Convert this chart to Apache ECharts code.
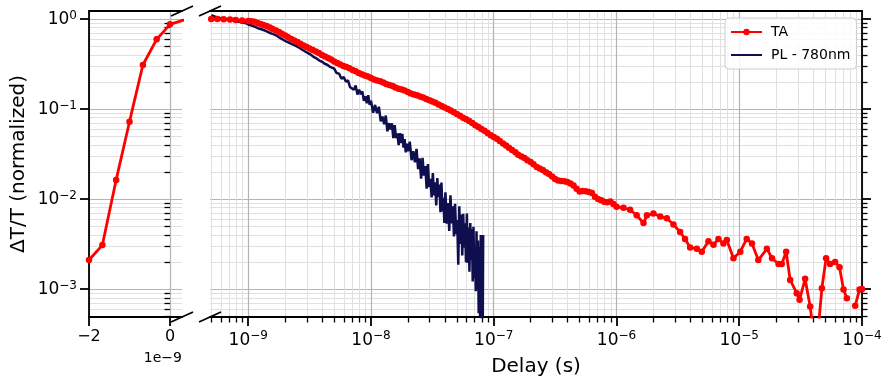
<!DOCTYPE html>
<html>
<head>
<meta charset="utf-8">
<script src="https://cdn.jsdelivr.net/npm/echarts@6/dist/echarts.min.js"></script>
<style>
  html, body { margin: 0; padding: 0; background: #ffffff; }
  #chart { width: 888px; height: 378px; }
</style>
</head>
<body>
<div id="chart"></div>
<script>
// ---- Transient absorption (TA), delay in seconds ----
const taTime = [
  -2.0e-9, -1.67e-9, -1.33e-9, -1.0e-9, -0.67e-9, -0.33e-9, 0, 0.33e-9,
  5.0e-10, 5.6e-10, 6.3e-10, 7.1e-10, 7.9e-10, 8.9e-10,
  1.0e-9, 1.06e-9, 1.12e-9, 1.19e-9, 1.26e-9, 1.33e-9, 1.41e-9, 1.5e-9, 1.58e-9, 1.68e-9,
  1.78e-9, 1.88e-9, 2.0e-9, 2.11e-9, 2.24e-9, 2.37e-9, 2.51e-9, 2.66e-9, 2.82e-9, 2.99e-9,
  3.16e-9, 3.35e-9, 3.55e-9, 3.76e-9, 3.98e-9, 4.22e-9, 4.47e-9, 4.73e-9, 5.01e-9, 5.31e-9,
  5.62e-9, 5.96e-9, 6.31e-9, 6.68e-9, 7.08e-9, 7.5e-9, 7.94e-9, 8.41e-9, 8.91e-9, 9.44e-9,
  1.0e-8, 1.06e-8, 1.12e-8, 1.19e-8, 1.26e-8, 1.33e-8, 1.41e-8, 1.5e-8, 1.58e-8, 1.68e-8,
  1.78e-8, 1.88e-8, 2.0e-8, 2.11e-8, 2.24e-8, 2.37e-8, 2.51e-8, 2.66e-8, 2.82e-8, 2.99e-8,
  3.16e-8, 3.35e-8, 3.55e-8, 3.76e-8, 3.98e-8, 4.22e-8, 4.47e-8, 4.73e-8, 5.01e-8, 5.31e-8,
  5.62e-8, 5.96e-8, 6.31e-8, 6.68e-8, 7.08e-8, 7.5e-8, 7.94e-8, 8.41e-8, 8.91e-8, 9.44e-8,
  1.0e-7, 1.06e-7, 1.12e-7, 1.19e-7, 1.26e-7, 1.33e-7, 1.41e-7, 1.5e-7, 1.58e-7, 1.68e-7,
  1.78e-7, 1.88e-7, 2.0e-7, 2.11e-7, 2.24e-7, 2.37e-7, 2.51e-7, 2.66e-7, 2.82e-7, 2.99e-7,
  3.16e-7, 3.35e-7, 3.55e-7, 3.76e-7, 3.98e-7, 4.22e-7, 4.47e-7, 4.73e-7, 5.01e-7, 5.31e-7,
  5.62e-7, 5.96e-7, 6.31e-7, 6.68e-7, 7.08e-7, 7.5e-7, 7.94e-7, 8.41e-7, 8.91e-7, 9.44e-7,
  1.0e-6, 1.14e-6, 1.29e-6, 1.46e-6, 1.66e-6, 1.77e-6, 2.0e-6, 2.27e-6, 2.57e-6, 2.91e-6,
  3.3e-6, 3.62e-6, 3.98e-6, 4.51e-6, 4.95e-6, 5.61e-6, 6.17e-6, 6.77e-6, 7.43e-6, 7.92e-6, 8.97e-6,
  1.02e-5, 1.15e-5, 1.27e-5, 1.43e-5, 1.68e-5, 1.85e-5, 2.09e-5, 2.22e-5, 2.41e-5, 2.6e-5,
  2.94e-5, 3.1e-5, 3.44e-5, 3.78e-5, 4.24e-5, 4.71e-5, 5.1e-5, 5.5e-5, 6.04e-5, 6.56e-5,
  7.07e-5, 7.53e-5, 8.1e-5, 8.8e-5, 9.55e-5, 1.0e-4
];
const taValue = [
  0.0021, 0.00308, 0.0163, 0.0723, 0.308, 0.594, 0.873, 0.97,
  1.0, 1.0, 0.995, 0.99, 0.975, 0.965,
  0.95, 0.942, 0.93, 0.905, 0.88, 0.86, 0.836, 0.806, 0.774, 0.745,
  0.717, 0.686, 0.656, 0.628, 0.60, 0.578, 0.555, 0.53, 0.508, 0.49,
  0.47, 0.452, 0.435, 0.418, 0.398, 0.382, 0.369, 0.354, 0.337, 0.325,
  0.312, 0.301, 0.293, 0.283, 0.271, 0.262, 0.251, 0.243, 0.236, 0.229,
  0.221, 0.213, 0.207, 0.203, 0.197, 0.19, 0.185, 0.18, 0.173, 0.168,
  0.165, 0.161, 0.155, 0.149, 0.145, 0.142, 0.138, 0.134, 0.129, 0.125,
  0.121, 0.117, 0.112, 0.108, 0.104, 0.1, 0.096, 0.092, 0.088, 0.084,
  0.080, 0.077, 0.0735, 0.07, 0.066, 0.063, 0.0599, 0.0572, 0.054, 0.0512,
  0.0489, 0.0468, 0.0442, 0.0415, 0.0394, 0.0372, 0.035, 0.0331, 0.031, 0.0296,
  0.0285, 0.027, 0.0258, 0.0244, 0.0227, 0.0218, 0.021, 0.0198, 0.019, 0.0178,
  0.0167, 0.0161, 0.0159, 0.0158, 0.0155, 0.0149, 0.0141, 0.013, 0.0121, 0.0123,
  0.0122, 0.012, 0.0117, 0.0106, 0.0100, 0.0097, 0.0093, 0.0092, 0.0094, 0.0088,
  0.0082, 0.0080, 0.0076, 0.0066, 0.0054, 0.0066, 0.0069, 0.0064, 0.0061, 0.0052,
  0.0043, 0.0036, 0.0029, 0.0028, 0.0026, 0.0034, 0.0031, 0.0036, 0.0032, 0.0035, 0.0022,
  0.0026, 0.0036, 0.0032, 0.0021, 0.0028, 0.0022, 0.0019, 0.0019, 0.0026, 0.00126,
  0.0009, 0.00076, 0.0013, 0.00064, 0.0002, 0.00102, 0.0022, 0.0019, 0.0020, 0.00175,
  0.00099, 0.00079, null, 0.00065, 0.00099, 0.001
];

// ---- Photoluminescence at 780 nm, delay in nanoseconds ----
const plTimeNs = [
  0.50, 0.55, 0.60, 0.65, 0.70, 0.75, 0.80, 0.85, 0.90, 0.95,
  1.0, 1.1, 1.2, 1.3, 1.4, 1.5, 1.6, 1.7, 1.8, 1.9,
  2.0, 2.2, 2.4, 2.6, 2.8, 3.0, 3.2, 3.4, 3.6, 3.8, 4.0, 4.2, 4.4, 4.6, 4.8,
  5.0, 5.25, 5.5, 5.75, 6.0, 6.25, 6.5, 6.75, 7.0, 7.25, 7.5, 7.75, 8.0, 8.25, 8.5, 8.75,
  9.0, 9.25, 9.5, 9.75, 10.0,
  10.4, 10.8, 11.2, 11.6, 12.0, 12.4, 12.8, 13.2, 13.6, 14.0, 14.4, 14.8, 15.2, 15.6, 16.0,
  16.4, 16.8, 17.2, 17.6, 18.0, 18.4, 18.8, 19.2, 19.6, 20.0,
  20.7, 21.4, 22.1, 22.8, 23.5, 24.2, 24.9, 25.6, 26.3, 27.0, 27.7, 28.4, 29.1, 29.8,
  30.5, 31.2, 31.9, 32.6, 33.3, 34.0, 34.7, 35.4, 36.1, 36.8, 37.5, 38.2, 38.9, 39.6,
  40.4, 41.4, 42.4, 43.4, 44.4, 45.4, 46.4, 47.4, 48.4, 49.4, 50.4, 51.4, 52.4, 53.4,
  54.4, 55.4, 56.4, 57.4, 58.4, 59.4, 60.4, 61.4, 62.4, 63.4, 64.4, 65.4, 66.4, 67.4,
  68.4, 69.4, 70.4, 71.4, 72.4, 73.4, 74.4, 75.4, 76.4, 77.4, 78.4, 79.4, 80.4, 81.4, 82.0
];
const plValue = [
  1.10, 1.05, 1.02, 1.00, 0.985, 0.965, 0.945, 0.93, 0.91, 0.90,
  0.87, 0.835, 0.79, 0.765, 0.735, 0.70, 0.68, 0.655, 0.62, 0.595,
  0.57, 0.535, 0.51, 0.48, 0.45, 0.425, 0.405, 0.38, 0.365, 0.345, 0.335, 0.318, 0.31, 0.296, 0.288,
  0.282, 0.251, 0.247, 0.217, 0.226, 0.201, 0.208, 0.175, 0.181, 0.164, 0.183, 0.145, 0.164, 0.146, 0.157, 0.123,
  0.139, 0.116, 0.142, 0.111, 0.124,
  0.0908, 0.111, 0.0897, 0.106, 0.0728, 0.0826, 0.0678, 0.0847, 0.0566, 0.0697, 0.0593, 0.0692, 0.0476, 0.0664, 0.0475,
  0.0535, 0.0398, 0.0538, 0.0417, 0.0531, 0.0372, 0.0463, 0.033, 0.0412, 0.034,
  0.0433, 0.027, 0.0339, 0.0255, 0.036, 0.0215, 0.0283, 0.0168, 0.0286, 0.0182, 0.0232, 0.013, 0.0244, 0.0136,
  0.0168, 0.0104, 0.0194, 0.011, 0.0153, 0.00847, 0.0171, 0.0105, 0.0145, 0.00714, 0.0152, 0.00728, 0.0103, 0.00542,
  0.0119, 0.00532, 0.00902, 0.00442, 0.011, 0.00537, 0.00832, 0.00385, 0.00883, 0.00406, 0.00583, 0.00186, 0.00832, 0.00316,
  0.00673, 0.00236, 0.00686, 0.00288, 0.00538, 0.00199, 0.00692, 0.00195, 0.00482, 0.00156, 0.00541, 0.0021, 0.00463, 0.00121,
  0.00493, 0.00132, 0.00287, 0.000944, 0.00438, 0.000997, 0.00347, 0.000537, 0.00293, 0.000501, 0.00398, 0.000398, 0.00355, 0.000447, 0.00398
];

const seriesNames = ['TA', 'PL - 780nm'];

// ---- tick values ----
const yMajorTicks = [1e-3, 1e-2, 1e-1, 1];
const xLinearTicks = [-2e-9, 0];
const xLogMajorTicks = [1e-9, 1e-8, 1e-7, 1e-6, 1e-5, 1e-4];

// axis extents
const Y_MIN = 4.89e-4, Y_MAX = 1.227;
const XL_MIN = -2e-9, XL_MAX = 0.296e-9;
const XR_MIN = 4.88e-10, XR_MAX = 1e-4;

const FONT = 'DejaVu Sans';
const INK = '#000000';
const MAJOR_GRID = '#b4b4b4';
const MINOR_GRID = '#e0e0e0';
const TA_COLOR = '#ff0000';
const PL_COLOR = '#0f0f4f';

// 2..9 x 10^k positions inside [lo, hi] for minor ticks and grid
function minorLogTicks(lo, hi) {
  const out = [];
  for (let e = Math.floor(Math.log10(lo)); e <= Math.ceil(Math.log10(hi)); e++) {
    for (let k = 2; k <= 9; k++) {
      const v = k * Math.pow(10, e);
      if (v >= lo && v <= hi) out.push(v);
    }
  }
  return out;
}
const yMinorTicks = minorLogTicks(Y_MIN, Y_MAX);
const xLogMinorTicks = minorLogTicks(XR_MIN, XR_MAX);

const powRich = {
  b: { fontFamily: FONT, fontSize: 17, color: INK, lineHeight: 19, verticalAlign: 'bottom' },
  s: { fontFamily: FONT, fontSize: 12, color: INK, lineHeight: 12, verticalAlign: 'top' }
};
function powLabel(v) {
  const e = Math.round(Math.log10(v));
  return '{b|10}{s|' + (e < 0 ? '\u2212' + (-e) : String(e)) + '}';
}
function linLabel(v) {
  const n = Math.round(v / 1e-9);
  return n < 0 ? '\u2212' + (-n) : String(n);
}

const taLeft = [], taRight = [], plData = [];
taTime.forEach((t, i) => {
  const v = taValue[i] == null ? '-' : taValue[i];
  if (t <= 0.5e-9) taLeft.push([t, v]);
  if (t > 0) taRight.push([t, v]);
});
plTimeNs.forEach((t, i) => plData.push([t * 1e-9, plValue[i]]));

const spine = { show: true, onZero: false, lineStyle: { color: INK, width: 1.8 } };
const majorTick = (vals) => ({ show: true, customValues: vals, length: 9, lineStyle: { color: INK, width: 1.8 } });
const minorTick = (vals) => ({ show: true, customValues: vals, length: 5.5, lineStyle: { color: INK, width: 1.3 } });
const majorSplit = { show: true, lineStyle: { color: MAJOR_GRID, width: 1.2 } };
const minorSplit = { show: true, lineStyle: { color: MINOR_GRID, width: 1 } };
const hidden = { show: false };

const chart = echarts.init(document.getElementById('chart'), null, { renderer: 'canvas' });

chart.setOption({
  animation: false,
  backgroundColor: '#ffffff',
  textStyle: { fontFamily: FONT },
  grid: [
    { left: 89, top: 11, width: 93, height: 306, outerBoundsMode: 'none' },
    { left: 210, top: 11, width: 652, height: 306, outerBoundsMode: 'none' }
  ],
  legend: {
    data: [
      { name: seriesNames[0] },
      { name: seriesNames[1], itemStyle: { color: 'rgba(0,0,0,0)', borderWidth: 0 } }
    ],
    orient: 'vertical',
    left: 725, top: 18,
    padding: [6, 6, 6, 5],
    itemGap: 7, itemWidth: 31, itemHeight: 8,
    backgroundColor: 'rgba(255,255,255,0.85)',
    borderColor: '#cccccc', borderWidth: 1, borderRadius: 4,
    textStyle: { fontFamily: FONT, fontSize: 14, color: INK, padding: [0, 0, 0, 4], lineHeight: 16 }
  },
  xAxis: [
    { // left panel, linear delay
      gridIndex: 0, type: 'value', min: XL_MIN, max: XL_MAX, position: 'bottom',
      axisLine: spine, axisTick: majorTick(xLinearTicks),
      axisLabel: { customValues: xLinearTicks, formatter: linLabel, margin: 12,
                   fontFamily: FONT, fontSize: 16, color: INK },
      splitLine: majorSplit
    },
    { // left panel top spine
      gridIndex: 0, type: 'value', min: XL_MIN, max: XL_MAX, position: 'top',
      axisLine: spine, axisTick: hidden, axisLabel: hidden, splitLine: hidden
    },
    { // right panel, log delay
      gridIndex: 1, type: 'log', logBase: 10, min: XR_MIN, max: XR_MAX, position: 'bottom',
      axisLine: spine, axisTick: majorTick(xLogMajorTicks),
      axisLabel: { customValues: xLogMajorTicks, formatter: powLabel, rich: powRich, margin: 13 },
      splitLine: majorSplit,
      name: 'Delay (s)', nameLocation: 'middle', nameGap: 40,
      nameTextStyle: { fontFamily: FONT, fontSize: 20, color: INK }
    },
    { // right panel minor ticks / grid
      gridIndex: 1, type: 'log', logBase: 10, min: XR_MIN, max: XR_MAX, position: 'bottom',
      axisLine: hidden, axisTick: minorTick(xLogMinorTicks), axisLabel: hidden, splitLine: minorSplit
    },
    { // right panel top spine
      gridIndex: 1, type: 'log', logBase: 10, min: XR_MIN, max: XR_MAX, position: 'top',
      axisLine: spine, axisTick: hidden, axisLabel: hidden, splitLine: hidden
    }
  ],
  yAxis: [
    { // left panel, labelled
      gridIndex: 0, type: 'log', logBase: 10, min: Y_MIN, max: Y_MAX, position: 'left',
      axisLine: spine, axisTick: majorTick(yMajorTicks),
      axisLabel: { customValues: yMajorTicks, formatter: powLabel, rich: powRich, margin: 12 },
      splitLine: majorSplit,
      name: '\u0394T/T (normalized)', nameLocation: 'middle', nameGap: 60,
      nameTextStyle: { fontFamily: FONT, fontSize: 20, color: INK }
    },
    {
      gridIndex: 0, type: 'log', logBase: 10, min: Y_MIN, max: Y_MAX, position: 'left',
      axisLine: hidden, axisTick: minorTick(yMinorTicks), axisLabel: hidden, splitLine: minorSplit
    },
    { // right panel, ticks on the right spine
      gridIndex: 1, type: 'log', logBase: 10, min: Y_MIN, max: Y_MAX, position: 'right',
      axisLine: spine, axisTick: majorTick(yMajorTicks), axisLabel: hidden, splitLine: majorSplit
    },
    {
      gridIndex: 1, type: 'log', logBase: 10, min: Y_MIN, max: Y_MAX, position: 'right',
      axisLine: hidden, axisTick: minorTick(yMinorTicks), axisLabel: hidden, splitLine: minorSplit
    }
  ],
  series: [
    {
      name: seriesNames[0], type: 'line', xAxisIndex: 0, yAxisIndex: 0, data: taLeft,
      symbol: 'circle', symbolSize: 6.5, color: TA_COLOR,
      lineStyle: { color: TA_COLOR, width: 2.8 }, itemStyle: { color: TA_COLOR },
      clip: true, connectNulls: false, silent: true, emphasis: { disabled: true }
    },
    {
      name: seriesNames[0], type: 'line', xAxisIndex: 2, yAxisIndex: 2, data: taRight,
      symbol: 'circle', symbolSize: 6.5, color: TA_COLOR,
      lineStyle: { color: TA_COLOR, width: 2.8 }, itemStyle: { color: TA_COLOR },
      clip: true, connectNulls: false, silent: true, emphasis: { disabled: true }
    },
    {
      name: seriesNames[1], type: 'line', xAxisIndex: 2, yAxisIndex: 2, data: plData,
      symbol: 'none', color: PL_COLOR,
      lineStyle: { color: PL_COLOR, width: 2.5 },
      clip: true, silent: true, emphasis: { disabled: true }
    }
  ]
});

// break marks on the panel edges and the offset label of the linear axis
const leftTop = chart.convertToPixel({ xAxisIndex: 0, yAxisIndex: 0 }, [XL_MAX, Y_MAX]);
const leftBot = chart.convertToPixel({ xAxisIndex: 0, yAxisIndex: 0 }, [XL_MAX, Y_MIN]);
const rightTop = chart.convertToPixel({ xAxisIndex: 2, yAxisIndex: 2 }, [XR_MIN, Y_MAX]);
const rightBot = chart.convertToPixel({ xAxisIndex: 2, yAxisIndex: 2 }, [XR_MIN, Y_MIN]);
function breakMark(p) {
  return {
    type: 'line', silent: true, z: 100,
    shape: { x1: p[0] - 11, y1: p[1] + 5, x2: p[0] + 11, y2: p[1] - 5 },
    style: { stroke: INK, lineWidth: 1.8 }
  };
}
chart.setOption({
  graphic: [
    breakMark(leftTop), breakMark(leftBot), breakMark(rightTop), breakMark(rightBot),
    {
      type: 'text', silent: true, x: leftBot[0], y: leftBot[1] + 34,
      style: { text: '1e\u22129', fill: INK, font: '14px "DejaVu Sans"', align: 'right', verticalAlign: 'top' }
    }
  ]
});
</script>
</body>
</html>
